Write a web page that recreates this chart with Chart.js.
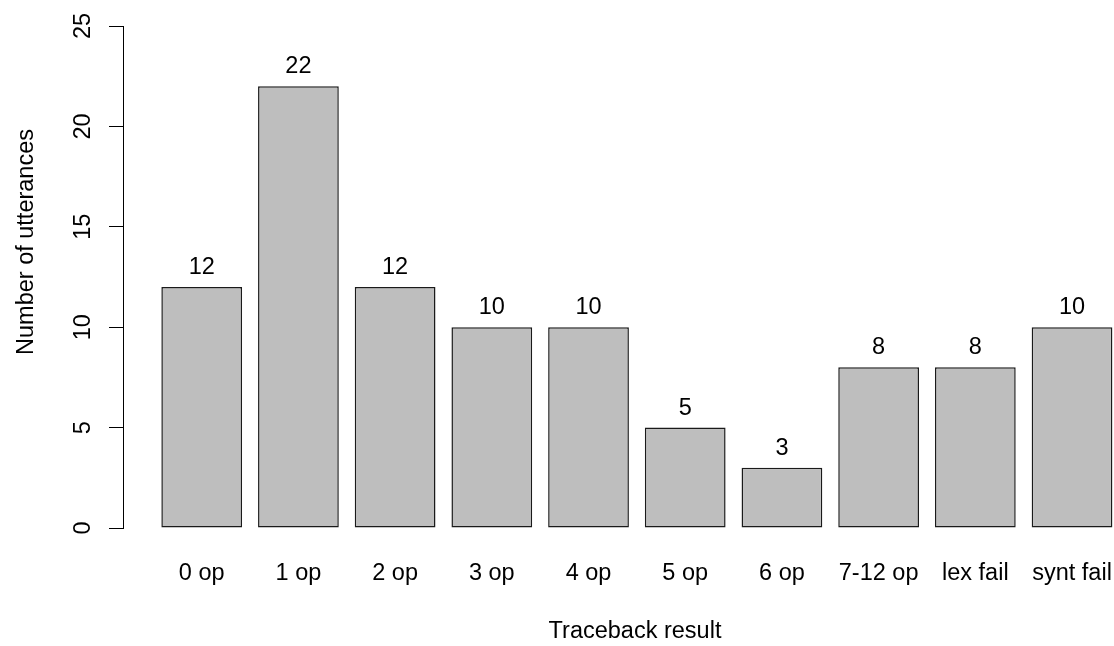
<!DOCTYPE html>
<html><head><meta charset="utf-8">
<script src="https://cdn.jsdelivr.net/npm/chart.js@4"></script>
<style>html,body{margin:0;padding:0;background:#fff}</style>
</head><body>
<canvas id="c" width="1114" height="646"></canvas>
<script>
const categories = ['0 op','1 op','2 op','3 op','4 op','5 op','6 op','7-12 op','lex fail','synt fail'];
const counts = [12,22,12,10,10,5,3,8,8,10];
const yTicks = [0,5,10,15,20,25];
const xTitle = 'Traceback result';
const yTitle = 'Number of utterances';
const FONT = '"Liberation Sans", Arial, sans-serif';
const FS = 23.5;

const textPlugin = {
  id: 'texts',
  afterDraw(chart) {
    const ctx = chart.ctx, ys = chart.scales.y;
    ctx.save();
    ctx.fillStyle = '#000';
    ctx.font = FS + 'px ' + FONT;
    ctx.textAlign = 'center';
    ctx.textBaseline = 'alphabetic';
    yTicks.forEach(v => {
      const py = ys.getPixelForValue(v);
      ctx.save(); ctx.translate(90, py); ctx.rotate(-Math.PI / 2);
      ctx.fillText(String(v), 0, 0); ctx.restore();
    });
    const meta = chart.getDatasetMeta(0);
    meta.data.forEach((bar, i) => ctx.fillText(String(counts[i]), bar.x, bar.y - 13));
    ctx.fillText(xTitle, 635, 638);
    ctx.save(); ctx.translate(33, 242); ctx.rotate(-Math.PI / 2);
    ctx.fillText(yTitle, 0, 0); ctx.restore();
    ctx.restore();
  }
};

new Chart(document.getElementById('c'), {
  type: 'bar',
  data: {
    datasets: [{
      data: counts.map((v, i) => ({ x: i, y: v })),
      backgroundColor: '#BEBEBE',
      borderColor: '#1a1a1a',
      borderWidth: 1.5,
      borderSkipped: false,
      categoryPercentage: 1,
      barPercentage: 0.835
    }]
  },
  options: {
    responsive: false,
    animation: false,
    layout: { padding: { top: 26, right: 0, bottom: 0, left: 0 } },
    plugins: { legend: { display: false }, tooltip: { enabled: false } },
    scales: {
      x: {
        type: 'linear',
        offset: false,
        min: -0.814, max: 9.434,
        afterBuildTicks: s => { s.ticks = categories.map((c, i) => ({ value: i })); },
        afterFit: s => { s.height = 118; },
        grid: { display: false, drawTicks: true, tickLength: 31 },
        border: { display: false },
        ticks: {
          autoSkip: false, maxRotation: 0, minRotation: 0,
          padding: 0, color: '#000',
          font: { family: FONT, size: FS },
          callback: v => categories[v]
        }
      },
      y: {
        min: 0, max: 25,
        afterFit: s => { s.width = 123; },
        ticks: { stepSize: 5, display: false },
        grid: { drawOnChartArea: false, drawTicks: true, tickLength: 14, color: '#000', lineWidth: 1 },
        border: { display: true, color: '#000', width: 1 }
      }
    }
  },
  plugins: [textPlugin]
});
</script>
</body></html>
